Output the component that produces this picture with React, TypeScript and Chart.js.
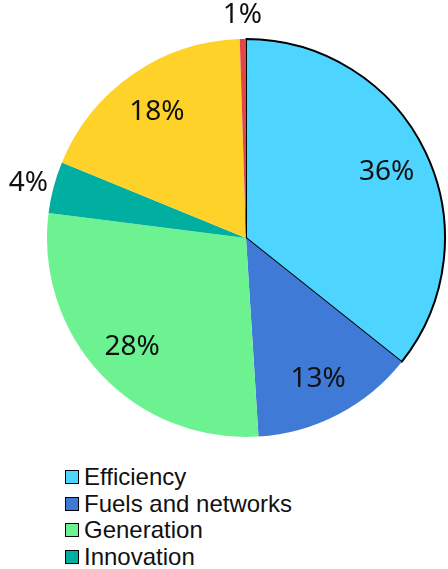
import React, { useEffect, useRef } from "react";
import { Chart, registerables } from "chart.js";

Chart.register(...registerables);

const categories = ["Efficiency", "Fuels and networks", "Generation", "Innovation", "Transport", "Other"];
const shares = [35.7, 13.3, 28.0, 4.2, 18.3, 0.5];
const colors = ["#4DD4FF", "#3F7BD6", "#6DF292", "#00AFA0", "#FFD22A", "#E04848"];

const labelPlugin = {
  id: "sliceLabels",
  afterDatasetsDraw(chart: any) {
    const ctx = chart.ctx;
    const meta = chart.getDatasetMeta(0);
    const data = chart.data.datasets[0].data as number[];
    ctx.save();
    ctx.font = '28px "Noto Sans"';
    ctx.fillStyle = "#111";
    ctx.textAlign = "center";
    ctx.textBaseline = "alphabetic";
    meta.data.forEach((arc: any, i: number) => {
      const p = arc.getProps(["x", "y", "startAngle", "endAngle", "outerRadius"], true);
      const mid = (p.startAngle + p.endAngle) / 2;
      const v = data[i];
      const r = v >= 10 ? p.outerRadius * 0.785 : p.outerRadius + 26;
      const x = p.x + Math.cos(mid) * r;
      const y = p.y + Math.sin(mid) * r;
      ctx.fillText(Math.round(v) + "%", x, y + 10);
    });
    ctx.restore();
  },
};

export default function App() {
  const ref = useRef<HTMLCanvasElement | null>(null);
  useEffect(() => {
    if (!ref.current) return;
    const chart = new Chart(ref.current, {
      type: "pie",
      data: {
        labels: categories,
        datasets: [
          {
            data: shares,
            backgroundColor: colors,
            borderColor: ["#000", "rgba(0,0,0,0)", "rgba(0,0,0,0)", "rgba(0,0,0,0)", "rgba(0,0,0,0)", "rgba(0,0,0,0)"],
            borderWidth: [2, 0, 0, 0, 0, 0],
          },
        ],
      },
      options: {
        animation: false,
        responsive: false,
        maintainAspectRatio: false,
        layout: { padding: { left: 46, right: 2, top: 38, bottom: 2 } },
        plugins: {
          legend: { display: false },
          tooltip: { enabled: false },
        },
      },
      plugins: [labelPlugin],
    });
    return () => chart.destroy();
  }, []);

  return (
    <div
      style={{
        position: "fixed",
        left: 0,
        top: 0,
        width: 448,
        height: 569,
        overflow: "hidden",
        background: "#fff",
      }}
    >
      <canvas ref={ref} width={448} height={440} style={{ display: "block", width: 448, height: 440 }} />
      <div
        style={{
          position: "absolute",
          left: 65,
          top: 464,
          fontFamily: '"Liberation Sans", Arial, sans-serif',
          fontSize: 24,
          lineHeight: "26.5px",
          color: "#111",
        }}
      >
        {categories.map((c, i) => (
          <div key={c} style={{ display: "flex", alignItems: "center", whiteSpace: "nowrap" }}>
            <span
              style={{
                display: "inline-block",
                width: 12,
                height: 12,
                background: colors[i],
                border: "1.5px solid #000",
                marginRight: 5,
              }}
            />
            <span>{c}</span>
          </div>
        ))}
      </div>
    </div>
  );
}
